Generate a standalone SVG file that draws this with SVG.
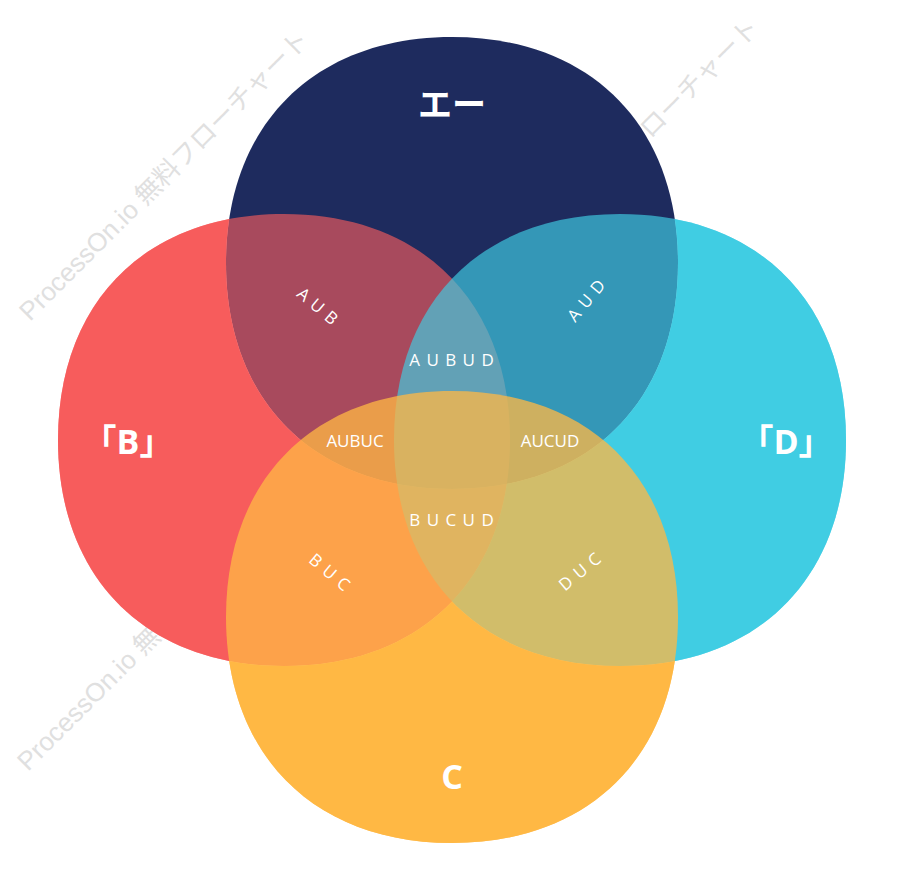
<svg xmlns="http://www.w3.org/2000/svg" width="913" height="880" viewBox="0 0 913 880">
<style>
.wm{font-family:"Liberation Sans","Noto Sans CJK JP",sans-serif;font-size:26px;fill:#e0e0e0}
.big{font-family:"Open Sans","Noto Sans CJK JP",sans-serif;font-size:34px;font-weight:bold;fill:#fff;text-anchor:middle}
.lb{font-family:"Open Sans","Liberation Sans",sans-serif;font-size:17px;fill:#fff;text-anchor:middle;letter-spacing:1px}
</style>
<defs>
<path id="s" d="M-226,0 C-226,-138 -138,-226 0,-226 C138,-226 226,-138 226,0 C226,138 138,226 0,226 C-138,226 -226,138 -226,0 Z"/>
<mask id="mB" maskUnits="userSpaceOnUse" x="0" y="0" width="913" height="880"><rect width="913" height="880" fill="#fff"/><use href="#s" transform="translate(452,263)" fill="#000"/></mask>
<mask id="mD" maskUnits="userSpaceOnUse" x="0" y="0" width="913" height="880"><rect width="913" height="880" fill="#fff"/><use href="#s" transform="translate(452,263)" fill="#000"/><use href="#s" transform="translate(284,440)" fill="#000"/></mask>
<mask id="mC" maskUnits="userSpaceOnUse" x="0" y="0" width="913" height="880"><rect width="913" height="880" fill="#fff"/><use href="#s" transform="translate(452,263)" fill="#000"/><use href="#s" transform="translate(284,440)" fill="#000"/><use href="#s" transform="translate(620,440)" fill="#000"/></mask>
</defs>
<rect width="913" height="880" fill="#fff"/>
<g id="watermarks">
<text class="wm" transform="translate(30,322) rotate(-45)">ProcessOn.io 無料フローチャート</text>
<text class="wm" transform="translate(480,310) rotate(-45)">ProcessOn.io 無料フローチャート</text>
<text class="wm" transform="translate(28,772) rotate(-45)">ProcessOn.io 無料フローチャート</text>
</g>
<g id="A"><use href="#s" transform="translate(452,263)" fill="#1e2b5e"/></g>
<g id="B"><g mask="url(#mB)"><use href="#s" transform="translate(284,440)" fill="#f75d5d"/></g><use href="#s" transform="translate(284,440)" fill="#f75d5d" opacity="0.64"/></g>
<g id="D"><g mask="url(#mD)"><use href="#s" transform="translate(620,440)" fill="#40cde3"/></g><use href="#s" transform="translate(620,440)" fill="#40cde3" opacity="0.67"/></g>
<g id="C"><g mask="url(#mC)"><use href="#s" transform="translate(452,617)" fill="#ffb845"/></g><use href="#s" transform="translate(452,617)" fill="#ffb845" opacity="0.76"/></g>
<g id="labels">
<text class="big" x="452" y="117">エー</text>
<text class="big" x="128" y="454">「B」</text>
<text class="big" x="786" y="454">「D」</text>
<text class="big" x="452" y="789">C</text>
<text class="lb" transform="translate(314,311) rotate(40)">A U B</text>
<text class="lb" transform="translate(591,304) rotate(-50)">A U D</text>
<text class="lb" x="452" y="366">A U B U D</text>
<text class="lb" x="355" y="447" style="letter-spacing:0">AUBUC</text>
<text class="lb" x="550" y="447" style="letter-spacing:0">AUCUD</text>
<text class="lb" x="452" y="526">B U C U D</text>
<text class="lb" transform="translate(326,577) rotate(40)">B U C</text>
<text class="lb" transform="translate(584,576) rotate(-40)">D U C</text>
</g>
</svg>
